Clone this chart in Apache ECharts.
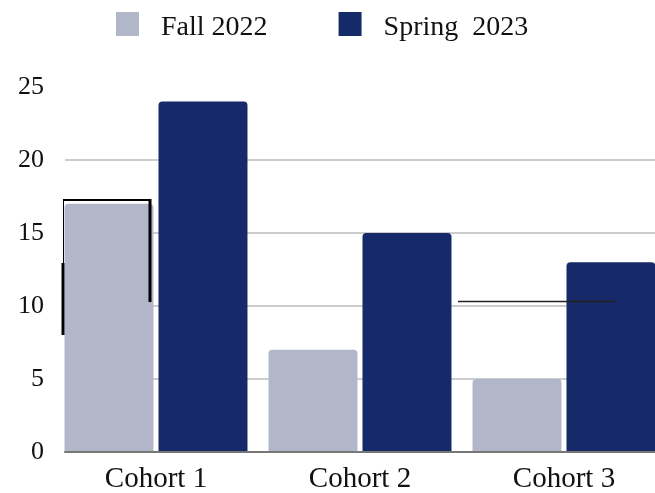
<!DOCTYPE html>
<html lang="en">
<head>
  <meta charset="UTF-8" />
  <title>Cohorts</title>
  <script src="https://cdn.jsdelivr.net/npm/echarts@6.0.0/dist/echarts.min.js"></script>
  <style>
    html, body { margin: 0; padding: 0; background: #fff; }
  </style>
</head>
<body>
  <div id="main" style="width:655px; height:493px;"></div>
  <script type="text/javascript">
    // data
    var categories = ['Cohort 1', 'Cohort 2', 'Cohort 3'];
    var fall2022 = [17, 7, 5];
    var spring2023 = [24, 15, 13];
    var seriesNames = ['Fall 2022', 'Spring  2023'];
    var yMin = 0, yMax = 25, yStep = 5;

    var font = '"Liberation Serif", "Times New Roman", serif';
    var colors = ['#b1b6c8', '#162a69'];

    var myChart = echarts.init(document.getElementById('main'));
    myChart.setOption({
      animation: false,
      color: colors,
      legend: {
        top: 12,
        left: 116,
        padding: 0,
        itemWidth: 23,
        itemHeight: 24,
        itemGap: 71,
        icon: 'rect',
        formatter: '{t|{name}}',
        textStyle: {
          fontFamily: font, fontSize: 28, color: '#111',
          rich: { t: { fontFamily: font, fontSize: 28, color: '#111', padding: [8, 0, 0, 17] } }
        },
        data: seriesNames
      },
      // grid 0 holds the bars, grid 1 the value axis and grid lines
      grid: [
        { left: 54, top: 87, width: 612, height: 365, outerBoundsMode: 'none' },
        { left: 65, right: 0, top: 87, height: 365, outerBoundsMode: 'none' }
      ],
      xAxis: [
        {
          gridIndex: 0,
          type: 'category',
          data: categories,
          axisTick: { show: false },
          axisLine: { show: false },
          axisLabel: { fontFamily: font, fontSize: 29, color: '#111', margin: 13 }
        },
        {
          gridIndex: 1,
          type: 'category',
          data: categories,
          axisTick: { show: false },
          axisLabel: { show: false },
          axisLine: { lineStyle: { color: '#777', width: 2 } },
          z: 5
        }
      ],
      yAxis: [
        {
          gridIndex: 0,
          type: 'value',
          min: yMin, max: yMax, interval: yStep,
          show: false
        },
        {
          gridIndex: 1,
          type: 'value',
          min: yMin, max: yMax, interval: yStep,
          axisLabel: { fontFamily: font, fontSize: 26, color: '#111', margin: 21 },
          splitLine: { lineStyle: { color: ['#ccc', '#ccc', '#ccc', '#ccc', '#ccc', 'rgba(0,0,0,0)'], width: 2 } }
        }
      ],
      series: [
        {
          name: seriesNames[0],
          type: 'bar',
          xAxisIndex: 0, yAxisIndex: 0,
          data: fall2022,
          barWidth: 89,
          barGap: '5.6%',
          itemStyle: { borderRadius: [4, 4, 0, 0] }
        },
        {
          name: seriesNames[1],
          type: 'bar',
          xAxisIndex: 0, yAxisIndex: 0,
          data: spring2023,
          barWidth: 89,
          barGap: '5.6%',
          itemStyle: { borderRadius: [4, 4, 0, 0] }
        }
      ],
      // stray annotation strokes in the original picture
      graphic: [
        { type: 'line', shape: { x1: 63, y1: 200, x2: 151, y2: 200 }, style: { stroke: '#000', lineWidth: 2 }, z: 100 },
        { type: 'line', shape: { x1: 150, y1: 199, x2: 150, y2: 302 }, style: { stroke: '#000', lineWidth: 3 }, z: 100 },
        { type: 'line', shape: { x1: 63.5, y1: 199, x2: 63.5, y2: 263 }, style: { stroke: '#000', lineWidth: 1 }, z: 100 },
        { type: 'line', shape: { x1: 63, y1: 263, x2: 63, y2: 335 }, style: { stroke: '#000', lineWidth: 3 }, z: 100 },
        { type: 'line', shape: { x1: 458, y1: 301.5, x2: 615, y2: 301.5 }, style: { stroke: '#222', lineWidth: 1.5 }, z: 100 }
      ]
    });
  </script>
</body>
</html>
